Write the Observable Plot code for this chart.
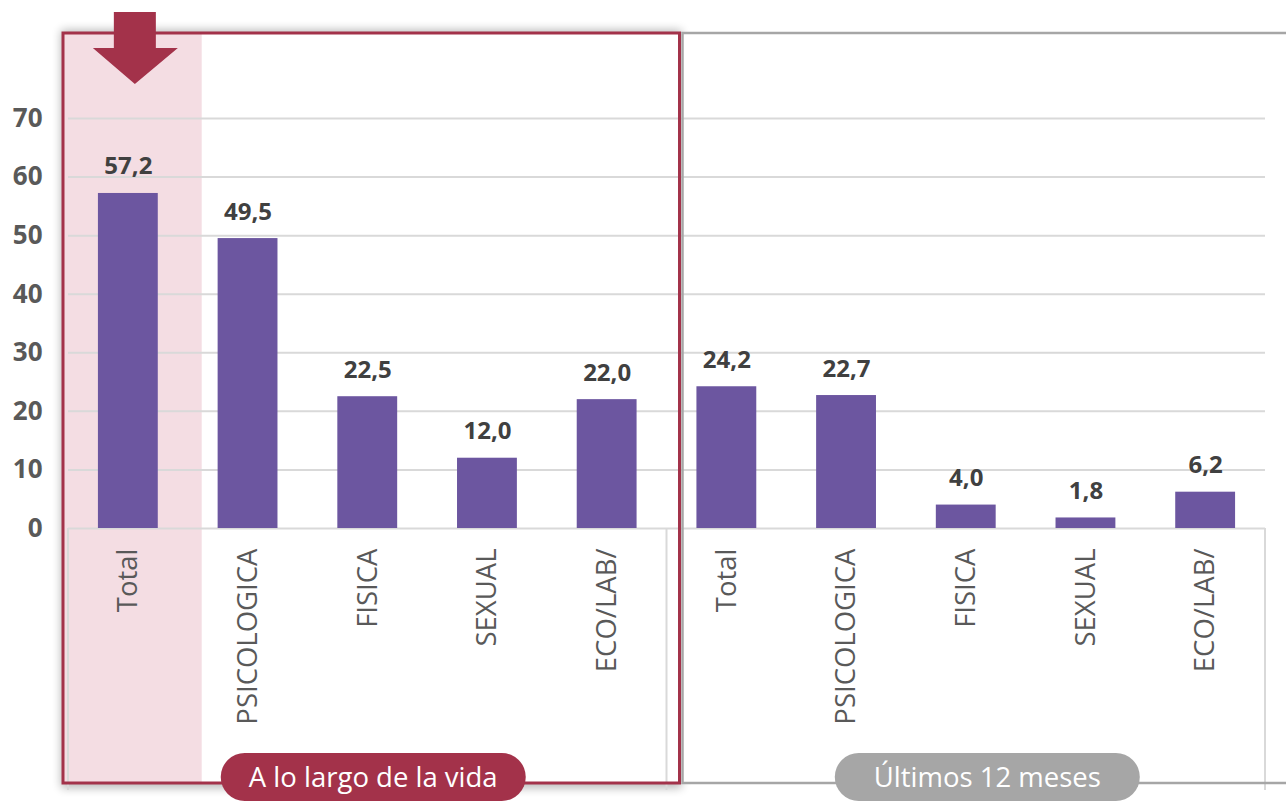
<!DOCTYPE html>
<html><head><meta charset="utf-8">
<script src="https://cdn.jsdelivr.net/npm/d3@7"></script>
<script src="https://cdn.jsdelivr.net/npm/@observablehq/plot@0.6"></script>
<style>body{margin:0;background:#fff;overflow:hidden;} svg{display:block;}</style>
</head><body><div id="chart"></div>
<script>
const periods = ["A lo largo de la vida", "Últimos 12 meses"];
const categories = ["Total", "PSICOLOGICA", "FISICA", "SEXUAL", "ECO/LAB/"];
const vidaValues = [57.2, 49.5, 22.5, 12.0, 22.0];
const mesesValues = [24.2, 22.7, 4.0, 1.8, 6.2];
const yTicks = [0, 10, 20, 30, 40, 50, 60, 70];

const rows = [];
[vidaValues, mesesValues].forEach((vals, g) =>
  categories.forEach((c, i) => rows.push({
    key: g + "|" + c, period: periods[g], category: c, value: vals[i],
    label: vals[i].toFixed(1).replace(".", ",")
  })));

const W = 1286, H = 803;
const RED = "#a3324a", GRAY = "#a6a6a6";
const chart = Plot.plot({
  width: W, height: H,
  marginLeft: 68, marginRight: 21, marginTop: 118, marginBottom: 275,
  style: {fontFamily: "'Open Sans', sans-serif", background: "transparent", overflow: "visible"},
  x: {domain: rows.map(d => d.key), paddingInner: 0.5, paddingOuter: 0.25, round: false, axis: null},
  y: {domain: [0, 70], axis: null},
  marks: [
    Plot.ruleY(yTicks, {stroke: "#d9d9d9", strokeWidth: 2}),
    Plot.barY(rows, {x: "key", y: "value", fill: "#6c56a0"}),
    Plot.text(rows, {x: "key", y: "value", text: "label", lineAnchor: "bottom", dy: -19,
      fontSize: 24, fontWeight: "bold", fill: "#404040"}),
    Plot.text(rows, {x: "key", y: 0, text: "category", rotate: -90, textAnchor: "end", dy: 20,
      fontSize: 27.5, fill: "#595959"}),
    Plot.text(yTicks, {y: d => d, text: d => String(d), frameAnchor: "left", textAnchor: "end", dx: -26,
      fontSize: 26, fontWeight: "bold", fill: "#595959"})
  ]
});
document.getElementById("chart").appendChild(chart);

// Decorations positioned from the chart's scales
const xs = chart.scale("x"), ys = chart.scale("y");
const step = xs.step, bw = xs.bandwidth;
const x0 = xs.range[0], x1 = xs.range[1];
const xMid = x0 + 5 * step;
const y0 = ys.apply(0), y70 = ys.apply(70);
const boxTop = y70 - 85, boxBottom = y0 + 255;

const svg = d3.select(chart);
const defs = svg.insert("defs", ":first-child");
defs.append("filter").attr("id", "shadow").attr("x", "-10%").attr("y", "-10%").attr("width", "120%").attr("height", "120%")
  .append("feGaussianBlur").attr("stdDeviation", 5);

const back = svg.insert("g", "g");
back.append("rect").attr("x", x0 - 7).attr("y", boxTop - 3).attr("width", xMid + 15 - x0 + 7).attr("height", boxBottom - boxTop + 8)
  .attr("fill", "#000").attr("opacity", 0.28).attr("filter", "url(#shadow)");
back.append("rect").attr("x", x0 - 5).attr("y", boxTop).attr("width", W - x0 + 10).attr("height", boxBottom - boxTop).attr("fill", "#fff");
back.append("rect").attr("x", x0 - 5).attr("y", boxTop).attr("width", step + 19).attr("height", boxBottom - boxTop).attr("fill", "#f4dde3");
// category table lines
[x0, xMid, x1].forEach(x => back.append("line").attr("x1", x).attr("x2", x).attr("y1", y0).attr("y2", y0 + 262)
  .attr("stroke", "#d9d9d9").attr("stroke-width", 2));

const front = svg.append("g");
front.append("rect").attr("x", xMid + 16).attr("y", boxTop).attr("width", W - xMid).attr("height", boxBottom - boxTop)
  .attr("fill", "none").attr("stroke", GRAY).attr("stroke-width", 2.5);
front.append("rect").attr("x", x0 - 5).attr("y", boxTop).attr("width", xMid + 13 - (x0 - 5)).attr("height", boxBottom - boxTop)
  .attr("fill", "none").attr("stroke", RED).attr("stroke-width", 3);

// arrow over the Total column
const cx = xs.apply(rows[0].key) + bw / 2 + 7;
const aTop = boxTop - 21, aNeck = boxTop + 15, aTip = boxTop + 51;
front.append("path").attr("fill", RED)
  .attr("d", `M${cx - 21},${aTop}H${cx + 21}V${aNeck}H${cx + 43}L${cx},${aTip}L${cx - 42},${aNeck}H${cx - 21}Z`);

// period pills
const pills = [
  {text: periods[0], cx: x0 + 2.55 * step, fill: RED},
  {text: periods[1], cx: x0 + 7.68 * step, fill: GRAY}
];
pills.forEach(p => {
  const pw = 305, ph = 48, py = boxBottom - 6;
  front.append("rect").attr("x", p.cx - pw / 2).attr("y", py - ph / 2).attr("width", pw).attr("height", ph)
    .attr("rx", 24).attr("fill", p.fill);
  front.append("text").attr("x", p.cx).attr("y", py).attr("dy", "0.35em").attr("text-anchor", "middle")
    .attr("fill", "#fff").attr("font-size", 27.5).attr("font-family", "'Open Sans', sans-serif").text(p.text);
});
</script>
</body></html>
